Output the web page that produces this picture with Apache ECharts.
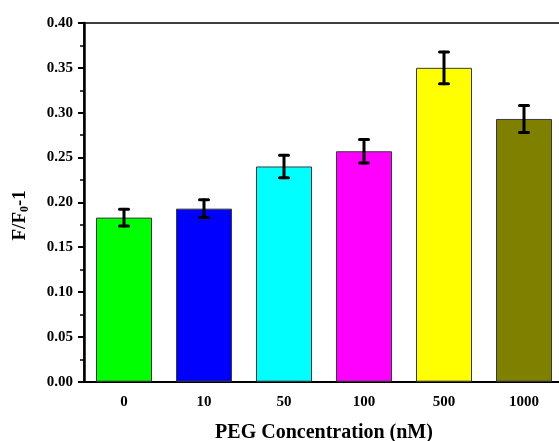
<!DOCTYPE html>
<html>
<head>
<meta charset="utf-8">
<script src="https://cdn.jsdelivr.net/npm/echarts@6/dist/echarts.min.js"></script>
<style>
  html, body { margin: 0; padding: 0; background: #fff; overflow: hidden; }
  #chart { width: 572px; height: 441px; }
</style>
</head>
<body>
<div id="chart"></div>
<script>
// PEG concentration groups and measured response (F/F0 - 1) with standard deviations
const categories = ['0', '10', '50', '100', '500', '1000'];
const values = [0.183, 0.193, 0.240, 0.257, 0.350, 0.293];
const errors = [0.0093, 0.010, 0.0125, 0.013, 0.0177, 0.015];
const barColors = ['#00ff00', '#0000ff', '#00ffff', '#ff00ff', '#ffff00', '#808000'];

const FONT = 'Liberation Serif';
const chart = echarts.init(document.getElementById('chart'), null, { renderer: 'canvas' });

const errorData = values.map((v, i) => [i, v - errors[i], v + errors[i]]);

chart.setOption({
  backgroundColor: '#ffffff',
  animation: false,
  grid: {
    left: 84, top: 23, width: 480, height: 358.7,
    containLabel: false,
    outerBoundsMode: 'none',
    show: true, borderColor: '#000', borderWidth: 1.5, backgroundColor: 'transparent'
  },
  xAxis: [
    {
      type: 'category',
      data: categories,
      name: 'PEG Concentration (nM)',
      nameLocation: 'middle',
      nameGap: 41,
      nameTextStyle: { fontFamily: FONT, fontWeight: 'bold', fontSize: 20, color: '#000' },
      axisLine: { lineStyle: { color: '#000', width: 2 } },
      axisTick: { alignWithLabel: true, length: 6, lineStyle: { color: '#000', width: 2 } },
      axisLabel: { fontFamily: FONT, fontWeight: 'bold', fontSize: 15, color: '#000', margin: 13 },
      splitLine: { show: false }
    },
    {
      // boundary ticks between groups
      type: 'category',
      data: categories,
      position: 'bottom',
      axisLine: { show: false },
      axisTick: { alignWithLabel: false, length: 4, lineStyle: { color: '#000', width: 2 } },
      axisLabel: { show: false },
      splitLine: { show: false }
    }
  ],
  yAxis: {
    type: 'value',
    min: 0, max: 0.40, interval: 0.05,
    name: '{a|F/F}{s|0}{a|-1}',
    nameLocation: 'middle',
    nameGap: 53,
    nameRotate: 90,
    nameTextStyle: {
      padding: [0, 26, 0, 0],
      rich: {
        a: { fontFamily: FONT, fontWeight: 'bold', fontSize: 19, color: '#000' },
        s: { fontFamily: FONT, fontWeight: 'bold', fontSize: 12, color: '#000', verticalAlign: 'bottom', padding: [9, 0, 0, 0] }
      }
    },
    axisLine: { show: true, lineStyle: { color: '#000', width: 2.5 } },
    axisTick: { show: true, length: 6, lineStyle: { color: '#000', width: 2 } },
    minorTick: { show: true, splitNumber: 2, length: 4, lineStyle: { color: '#000', width: 1.5 } },
    axisLabel: {
      fontFamily: FONT, fontWeight: 'bold', fontSize: 15, color: '#000', margin: 11,
      formatter: v => v.toFixed(2)
    },
    splitLine: { show: false }
  },
  series: [
    {
      type: 'bar',
      xAxisIndex: 0,
      barCategoryGap: '30%',
      data: values.map((v, i) => ({
        value: v,
        itemStyle: { color: barColors[i], borderColor: '#3a3a3a', borderWidth: 1 }
      })),
      z: 2
    },
    {
      type: 'custom',
      xAxisIndex: 0,
      data: errorData,
      z: 5,
      renderItem: function (params, api) {
        const x = api.value(0);
        const lo = api.coord([x, api.value(1)]);
        const hi = api.coord([x, api.value(2)]);
        const half = 4.5;
        const style = { stroke: '#000', lineWidth: 3, lineCap: 'round' };
        return {
          type: 'group',
          children: [
            { type: 'line', shape: { x1: lo[0], y1: lo[1], x2: hi[0], y2: hi[1] }, style: style },
            { type: 'line', shape: { x1: hi[0] - half, y1: hi[1], x2: hi[0] + half, y2: hi[1] }, style: style },
            { type: 'line', shape: { x1: lo[0] - half, y1: lo[1], x2: lo[0] + half, y2: lo[1] }, style: style }
          ]
        };
      }
    }
  ]
});
</script>
</body>
</html>
